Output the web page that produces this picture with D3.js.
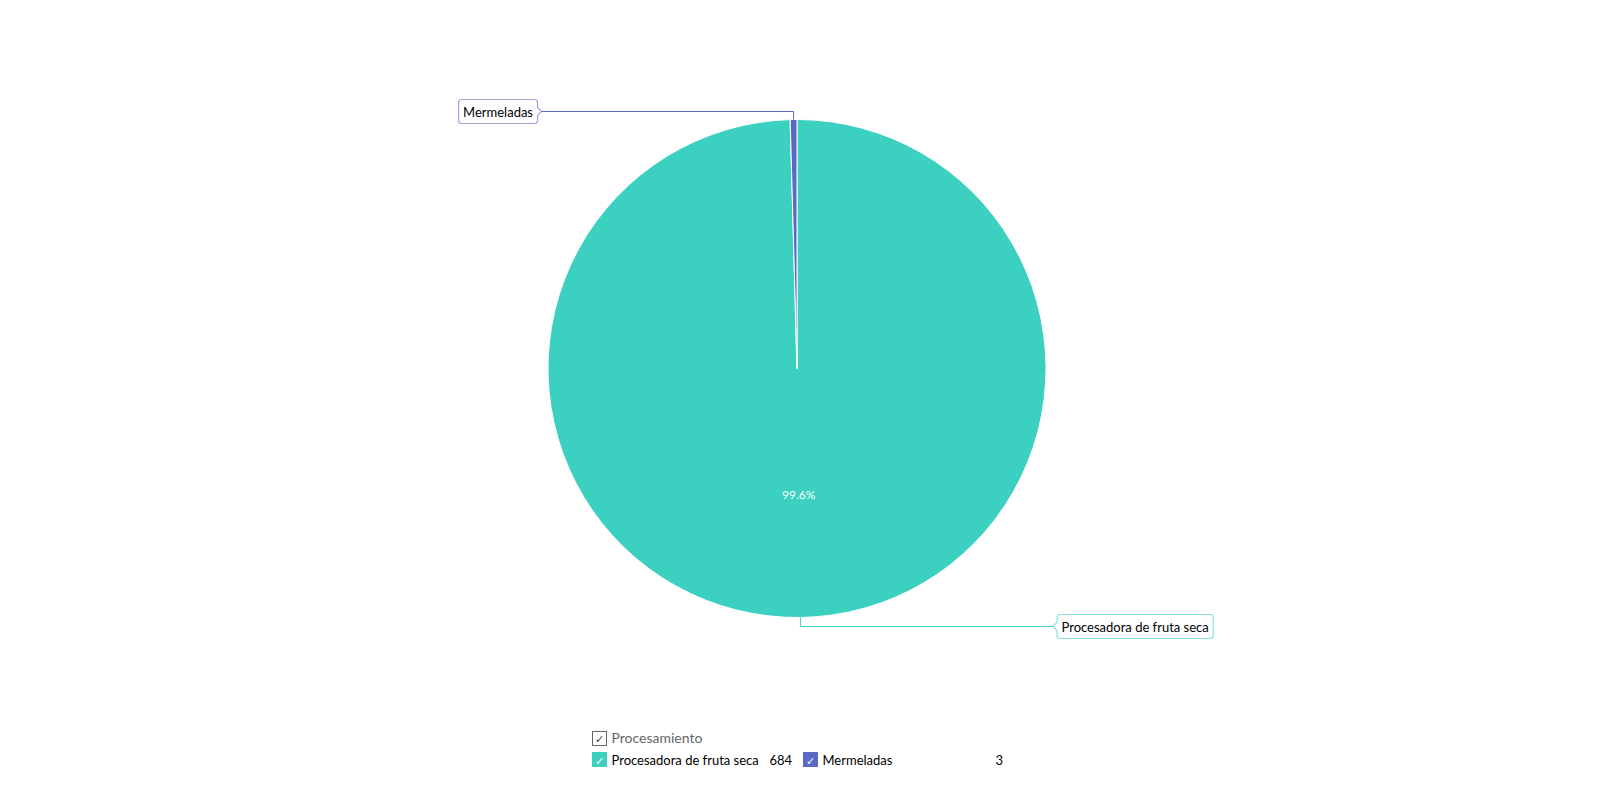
<!DOCTYPE html>
<html><head><meta charset="utf-8">
<script src="https://cdn.jsdelivr.net/npm/d3@7"></script>
<style>
html,body{margin:0;padding:0;background:#fff;}
svg{display:block;font-family:Lato,"Noto Sans",sans-serif;}
</style></head>
<body>
<svg id="chart" width="1600" height="785"></svg>
<script>
const categories = ["Procesadora de fruta seca", "Mermeladas"];
const values = [684, 3];
const colors = ["#3cd0c0", "#5b69c6"];
const legendTitle = "Procesamiento";

const svg = d3.select("#chart");
const cx = 797, cy = 368.5, R = 249;

const pie = d3.pie().sort(null).value(d => d.value);
const data = pie(categories.map((c, i) => ({name: c, value: values[i], color: colors[i]})));
const total = d3.sum(values);
const arc = d3.arc().innerRadius(0).outerRadius(R);

const g = svg.append("g").attr("transform", `translate(${cx},${cy})`);
g.selectAll("path.slice").data(data).join("path")
  .attr("class", "slice")
  .attr("d", arc)
  .attr("fill", d => d.data.color)
  .attr("stroke", "#fff")
  .attr("stroke-width", 1);

// percentage labels (only large enough slices)
const pctArc = d3.arc().innerRadius(R * 0.505).outerRadius(R * 0.505);
g.selectAll("text.pct").data(data.filter(d => d.value / total > 0.05)).join("text")
  .attr("class", "pct")
  .attr("x", d => pctArc.centroid(d)[0])
  .attr("y", d => pctArc.centroid(d)[1])
  .attr("text-anchor", "middle")
  .attr("dominant-baseline", "central")
  .attr("fill", "#fff")
  .attr("font-size", 12)
  .text(d => d3.format(".1f")(d.value / total * 100) + "%");

// callout labels
function callout(d, side, elbowY, lineEndX) {
  const mid = (d.startAngle + d.endAngle) / 2;
  const px = cx + R * Math.sin(mid);
  const py = cy - R * Math.cos(mid);
  const col = d.data.color;
  const cg = svg.append("g");
  cg.append("path")
    .attr("d", `M${px},${py}V${elbowY}H${lineEndX}`)
    .attr("fill", "none").attr("stroke", col).attr("stroke-width", 1);
  const box = cg.append("path");
  const t = cg.append("text")
    .attr("font-size", 13).attr("fill", "#000")
    .attr("dominant-baseline", "central")
    .text(d.data.name);
  const w = t.node().getComputedTextLength() + 9;
  const h = 24, pw = 4;
  let bx;
  if (side === "left") bx = lineEndX - pw - w; else bx = lineEndX + pw;
  const by = elbowY - h / 2, r = 3;
  const x2 = bx + w;
  let p;
  if (side === "left") {
    p = `M${bx + r},${by}H${x2 - r}Q${x2},${by} ${x2},${by + r}V${elbowY - 4}L${lineEndX},${elbowY}L${x2},${elbowY + 4}V${by + h - r}Q${x2},${by + h} ${x2 - r},${by + h}H${bx + r}Q${bx},${by + h} ${bx},${by + h - r}V${by + r}Q${bx},${by} ${bx + r},${by}Z`;
  } else {
    p = `M${bx + r},${by}H${x2 - r}Q${x2},${by} ${x2},${by + r}V${by + h - r}Q${x2},${by + h} ${x2 - r},${by + h}H${bx + r}Q${bx},${by + h} ${bx},${by + h - r}V${elbowY + 4}L${lineEndX},${elbowY}L${bx},${elbowY - 4}V${by + r}Q${bx},${by} ${bx + r},${by}Z`;
  }
  box.attr("d", p).attr("fill", "#fff")
    .attr("stroke", col).attr("stroke-opacity", 0.6).attr("stroke-width", 1.2);
  t.attr("x", bx + 4.5).attr("y", elbowY);
}
callout(data[1], "left", 111.5, 541.5);
callout(data[0], "right", 626.5, 1053);

// legend
const lg = svg.append("g");
lg.append("rect").attr("x", 592.5).attr("y", 731.5).attr("width", 14).attr("height", 14)
  .attr("fill", "#fff").attr("stroke", "#666").attr("stroke-width", 1);
lg.append("text").attr("x", 599.5).attr("y", 743).attr("text-anchor", "middle")
  .attr("font-size", 11).attr("fill", "#444").text("✓");
lg.append("text").attr("x", 611.5).attr("y", 743).attr("font-size", 14)
  .attr("fill", "#666").text(legendTitle);

const colW = 200, gap = 11, x0 = 592;
const items = lg.selectAll("g.item").data(data).join("g")
  .attr("class", "item")
  .attr("transform", (d, i) => `translate(${x0 + i * (colW + gap)},752)`);
items.append("rect").attr("width", 15).attr("height", 15).attr("fill", d => d.data.color);
items.append("text").attr("x", 7.5).attr("y", 12.5).attr("text-anchor", "middle")
  .attr("font-size", 11).attr("fill", "#fff").text("✓");
items.append("text").attr("x", 19.5).attr("y", 13).attr("font-size", 13).attr("fill", "#000")
  .text(d => d.data.name);
items.append("text").attr("x", colW).attr("y", 13).attr("font-size", 13).attr("fill", "#000")
  .attr("text-anchor", "end").text(d => d.data.value);
</script>
</body></html>
